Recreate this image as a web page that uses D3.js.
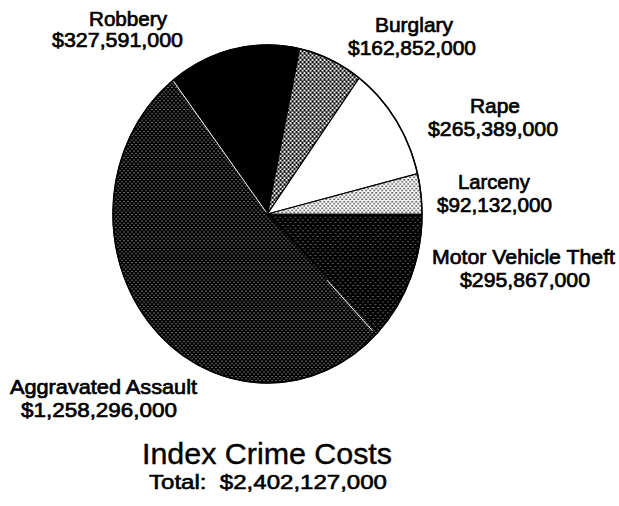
<!DOCTYPE html>
<html>
<head>
<meta charset="utf-8">
<script src="https://cdn.jsdelivr.net/npm/d3@7"></script>
<style>
  html, body { margin: 0; padding: 0; background: #fff; }
  svg { display: block; }
  text { font-family: "Liberation Sans", Arial, Helvetica, sans-serif; fill: #000; }
</style>
</head>
<body>
<div id="chart"></div>
<script>
// ---- data ----
const categories = ["Motor Vehicle Theft", "Aggravated Assault", "Robbery", "Burglary", "Rape", "Larceny"];
const values = [295867000, 1258296000, 327591000, 162852000, 265389000, 92132000];
const titleText = "Index Crime Costs";
const totalPrefix = "Total:\u00a0\u00a0";

// ---- layout / style (kept apart from the data) ----
const W = 619, H = 506;
const cx = 267.5, cy = 214, R = 154.5, yStretch = 169 / 154.5;
const fills = {
  "Motor Vehicle Theft": "url(#pMVT)",
  "Aggravated Assault": "url(#pAA)",
  "Robbery": "#000",
  "Burglary": "url(#pBur)",
  "Rape": "#fff",
  "Larceny": "url(#pLar)"
};
// [x-left, baseline, width] for name line and value line
const labelLayout = {
  "Robbery":             [[89, 26, 78],  [52, 47, 131]],
  "Burglary":            [[375, 32, 78], [348, 55, 128]],
  "Rape":                [[470, 113, 50],[428, 136, 130]],
  "Larceny":             [[458, 189, 72],[437, 212, 115]],
  "Motor Vehicle Theft": [[432, 264, 183],[460, 287, 130]],
  "Aggravated Assault":  [[10, 394, 187], [21, 417, 156]]
};

const svg = d3.select("#chart").append("svg")
  .attr("width", W).attr("height", H);

// halftone-like patterns
const defs = svg.append("defs");
const patternSpecs = [
  { id: "pMVT", bg: "#000", fg: "#fff", w: 5, d: 0.8 },
  { id: "pAA",  bg: "#000", fg: "#fff", w: 4, d: 0.9 },
  { id: "pBur", bg: "#fff", fg: "#000", w: 4, d: 2.2 },
  { id: "pLar", bg: "#fff", fg: "#000", w: 4, d: 1.3 }
];
patternSpecs.forEach(p => {
  const pat = defs.append("pattern")
    .attr("id", p.id).attr("patternUnits", "userSpaceOnUse")
    .attr("width", p.w).attr("height", p.w);
  pat.append("rect").attr("width", p.w).attr("height", p.w).attr("fill", p.bg);
  pat.append("rect").attr("x", 0).attr("y", 0).attr("width", p.d).attr("height", p.d).attr("fill", p.fg);
  pat.append("rect").attr("x", p.w / 2).attr("y", p.w / 2).attr("width", p.d).attr("height", p.d).attr("fill", p.fg);
});

const data = categories.map((c, i) => ({ name: c, value: values[i] }));
const pie = d3.pie().sort(null).value(d => d.value)
  .startAngle(Math.PI / 2).endAngle(Math.PI / 2 + 2 * Math.PI);
const arcs = pie(data);
const arc = d3.arc().innerRadius(0).outerRadius(R);

const g = svg.append("g")
  .attr("transform", `translate(${cx},${cy}) scale(1,${yStretch})`);

g.selectAll("path.slice").data(arcs).join("path")
  .attr("class", "slice")
  .attr("d", arc)
  .attr("fill", d => fills[d.data.name])
  .attr("stroke", "#000")
  .attr("stroke-width", 1.2)
  .attr("vector-effect", "non-scaling-stroke");

// faint white seams inside the Aggravated Assault slice (as in the print)
const aa = arcs.find(a => a.data.name === "Aggravated Assault");
const seam = (ang, r0, r1) => {
  const s = Math.sin(ang), c = -Math.cos(ang);
  g.append("line")
    .attr("x1", s * r0).attr("y1", c * r0)
    .attr("x2", s * r1).attr("y2", c * r1)
    .attr("stroke", "#fff").attr("stroke-width", 1)
    .attr("vector-effect", "non-scaling-stroke");
};
seam(aa.endAngle - 0.012, 2, R - 1);
seam(aa.startAngle + 0.02, R * 0.55, R * 0.97);

// outline
g.append("circle").attr("r", R).attr("fill", "none")
  .attr("stroke", "#000").attr("stroke-width", 1.5)
  .attr("vector-effect", "non-scaling-stroke");

// labels
const fmt = d3.format("$,");
const labels = svg.append("g").attr("class", "labels");
arcs.forEach(a => {
  const L = labelLayout[a.data.name];
  const lines = [a.data.name, fmt(a.data.value)];
  lines.forEach((t, i) => {
    labels.append("text")
      .attr("x", L[i][0]).attr("y", L[i][1])
      .attr("textLength", L[i][2]).attr("lengthAdjust", "spacingAndGlyphs")
      .attr("font-size", 21)
      .attr("stroke", "#000").attr("stroke-width", 0.7)
      .text(t);
  });
});

// title and total
svg.append("text")
  .attr("x", 142).attr("y", 464)
  .attr("textLength", 250).attr("lengthAdjust", "spacingAndGlyphs")
  .attr("font-size", 29)
  .attr("stroke", "#000").attr("stroke-width", 0.4)
  .text(titleText);

const total = d3.sum(values);
svg.append("text")
  .attr("x", 149).attr("y", 489)
  .attr("textLength", 238).attr("lengthAdjust", "spacingAndGlyphs")
  .attr("font-size", 20)
  .attr("stroke", "#000").attr("stroke-width", 0.6)
  .text(totalPrefix + fmt(total));
</script>
</body>
</html>
